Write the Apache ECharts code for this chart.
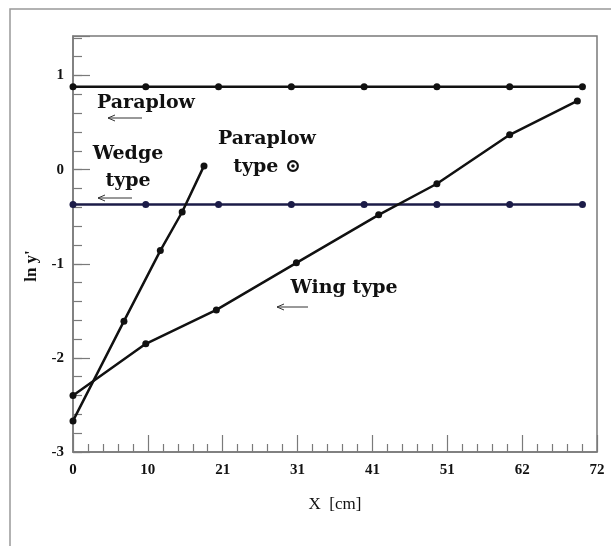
<!DOCTYPE html>
<html style="height: 100%">
<head>
	<meta charset="utf-8">
</head>
<body style="height: 100%; margin: 0; background: #fff">
<div id="container" style="width: 611px; height: 546px"></div>
<script type="text/javascript" src="https://cdn.jsdelivr.net/npm/echarts@6/dist/echarts.min.js"></script>
<script type="text/javascript">
    // measuring stations along X (cm)
    var stationX = [0, 10, 20, 30, 40, 50, 60, 70];
    var paraplowY = [0.88, 0.88, 0.88, 0.88, 0.88, 0.88, 0.88, 0.88];
    var paraplowTypeY = [-0.37, -0.37, -0.37, -0.37, -0.37, -0.37, -0.37, -0.37];

    var wedgeX = [0, 7, 12, 15, 18];
    var wedgeY = [-2.67, -1.61, -0.86, -0.45, 0.04];

    var wingX = [0, 10, 19.7, 30.7, 42, 50, 60, 69.3];
    var wingY = [-2.40, -1.85, -1.49, -0.99, -0.48, -0.15, 0.37, 0.73];

    var xTickLabels = ['0', '10', '21', '31', '41', '51', '62', '72'];
    var xMax = 72;
    var yMin = -3, yMax = 1.42;

    function pairs(xs, ys) {
        return xs.map(function (x, i) { return [x, ys[i]]; });
    }

    var serif = '"Liberation Serif", "Times New Roman", serif';
    var noteFont = 'bold 19px "DejaVu Serif", serif';
    var axisGray = '#7a7a7a';

    function arrow(x1, x2, y) {
        return {
            type: 'group',
            children: [
                { type: 'line', shape: { x1: x2, y1: y, x2: x1, y2: y }, style: { stroke: '#333', lineWidth: 1 } },
                { type: 'polyline', shape: { points: [[x1 + 7, y - 3], [x1, y], [x1 + 7, y + 3]] }, style: { stroke: '#333', lineWidth: 1, fill: null } }
            ]
        };
    }

    function label(text, x, y) {
        return {
            type: 'text',
            style: {
                text: text, x: x, y: y,
                font: noteFont,
                fill: '#111',
                align: 'center',
                verticalAlign: 'middle'
            }
        };
    }

    var dom = document.getElementById("container");
    var myChart = echarts.init(dom);

    var lineSeries = function (name, data, color) {
        return {
            name: name,
            type: 'line',
            data: data,
            symbol: 'circle',
            symbolSize: 7,
            itemStyle: { color: color },
            lineStyle: { color: color, width: 2.5 },
            animation: false
        };
    };

    var option = {
        backgroundColor: '#fff',
        grid: {
            left: 73, right: 14, top: 36, bottom: 94,
            show: true,
            borderColor: axisGray,
            borderWidth: 1.5
        },
        xAxis: {
            type: 'value',
            min: 0,
            max: xMax,
            interval: xMax / 7,
            name: 'X  [cm]',
            nameLocation: 'middle',
            nameGap: 44,
            nameTextStyle: { fontFamily: serif, fontSize: 17, color: '#111' },
            axisLine: { onZero: false, lineStyle: { color: axisGray, width: 1.5 } },
            axisTick: { inside: true, length: 17, lineStyle: { color: axisGray, width: 1.2 } },
            minorTick: { show: true, splitNumber: 5, length: 8, lineStyle: { color: axisGray, width: 1.2 } },
            splitLine: { show: false },
            axisLabel: {
                margin: 11,
                fontFamily: serif,
                fontWeight: 'bold',
                fontSize: 15,
                color: '#111',
                formatter: function (v) {
                    return xTickLabels[Math.round(v / (xMax / 7))];
                }
            }
        },
        yAxis: [{
            type: 'value',
            min: yMin,
            max: yMax,
            interval: 0.2,
            name: "ln y'",
            nameLocation: 'middle',
            nameGap: 31,
            nameRotate: 90,
            nameTextStyle: { fontFamily: serif, fontSize: 17, fontWeight: 'bold', color: '#111', padding: [0, 44, 0, 0] },
            axisLine: { lineStyle: { color: axisGray, width: 1.5 } },
            axisTick: { inside: true, length: 9, lineStyle: { color: axisGray, width: 1.2 } },
            splitLine: { show: false },
            axisLabel: {
                margin: 9,
                showMaxLabel: false,
                fontFamily: serif,
                fontWeight: 'bold',
                fontSize: 15,
                color: '#111',
                formatter: function (v) {
                    return Math.abs(v - Math.round(v)) < 1e-6 ? String(Math.round(v)) : '';
                }
            }
        }, {
            type: 'value',
            position: 'left',
            min: yMin,
            max: yMax,
            interval: 1,
            axisLine: { show: false },
            axisTick: { inside: true, length: 17, lineStyle: { color: axisGray, width: 1.2 } },
            axisLabel: { show: false },
            splitLine: { show: false }
        }],
        graphic: [
            { type: 'rect', shape: { x: 10, y: 9, width: 800, height: 800 }, style: { stroke: '#999', lineWidth: 1.5, fill: null } },
            label('Paraplow', 146, 103),
            arrow(108, 142, 118),
            label('Wedge', 128, 154),
            label('type', 128, 181),
            arrow(98, 132, 198),
            label('Paraplow', 267, 139),
            label('type \u2299', 267, 167),
            label('Wing type', 344, 288),
            arrow(277, 308, 307)
        ],
        series: [
            lineSeries('Paraplow', pairs(stationX, paraplowY), '#111'),
            lineSeries('Paraplow type', pairs(stationX, paraplowTypeY), '#1c1c48'),
            lineSeries('Wedge type', pairs(wedgeX, wedgeY), '#111'),
            lineSeries('Wing type', pairs(wingX, wingY), '#111')
        ]
    };

    myChart.setOption(option);
</script>
</body>
</html>
